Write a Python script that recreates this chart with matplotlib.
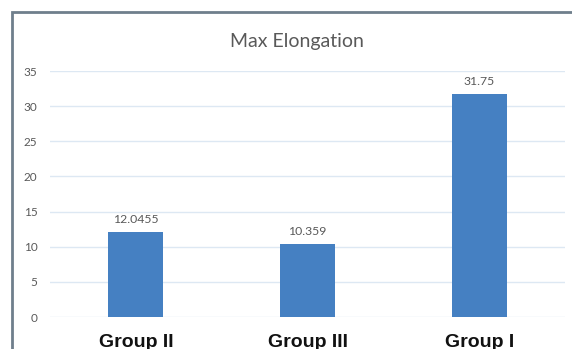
import matplotlib.pyplot as plt
from matplotlib.patches import Rectangle

groups = ['Group II', 'Group III', 'Group I']
values = [12.0455, 10.359, 31.75]
value_labels = ['12.0455', '10.359', '31.75']
yticks = [0, 5, 10, 15, 20, 25, 30, 35]

fig = plt.figure(figsize=(5.72, 3.49), dpi=100)
ax = fig.add_axes([50 / 572, 1 - 317 / 349, 515 / 572, 246 / 349])

# outer chart frame (only top and left edges visible in the crop)
fig.patches.append(Rectangle((12 / 572, -0.2), 1.2, 1 - 12 / 349 + 0.2,
                             transform=fig.transFigure, fill=False,
                             edgecolor='#6f7f8c', linewidth=2))

ax.bar(range(len(groups)), values, width=0.32, color='#4580c2', zorder=3)
for i, v in enumerate(values):
    ax.annotate(value_labels[i], (i, v), xytext=(0, 5), textcoords='offset points',
                ha='center', va='bottom', fontsize=8.8, color='#595959', family='Lato')

ax.set_xlim(-0.5, 2.5)
ax.set_ylim(0, 35)
ax.set_yticks(yticks)
ax.set_yticklabels([str(t) for t in yticks], fontsize=8.5, color='#595959', family='Lato')
ax.set_xticks(range(len(groups)))
ax.set_xticklabels(groups, fontsize=14, fontweight='bold', family='Liberation Sans', color='#111111')
ax.tick_params(axis='both', length=0)
ax.tick_params(axis='y', pad=9)
ax.tick_params(axis='x', pad=12.5)
ax.grid(axis='y', color='#dde8f3', linewidth=1, zorder=0)
for s in ax.spines.values():
    s.set_visible(False)

fig.text(297 / 572, 1 - 42 / 349, 'Max Elongation', ha='center', va='center',
         fontsize=14, color='#595959', family='Lato')

fig.savefig('out.png', dpi=100)
